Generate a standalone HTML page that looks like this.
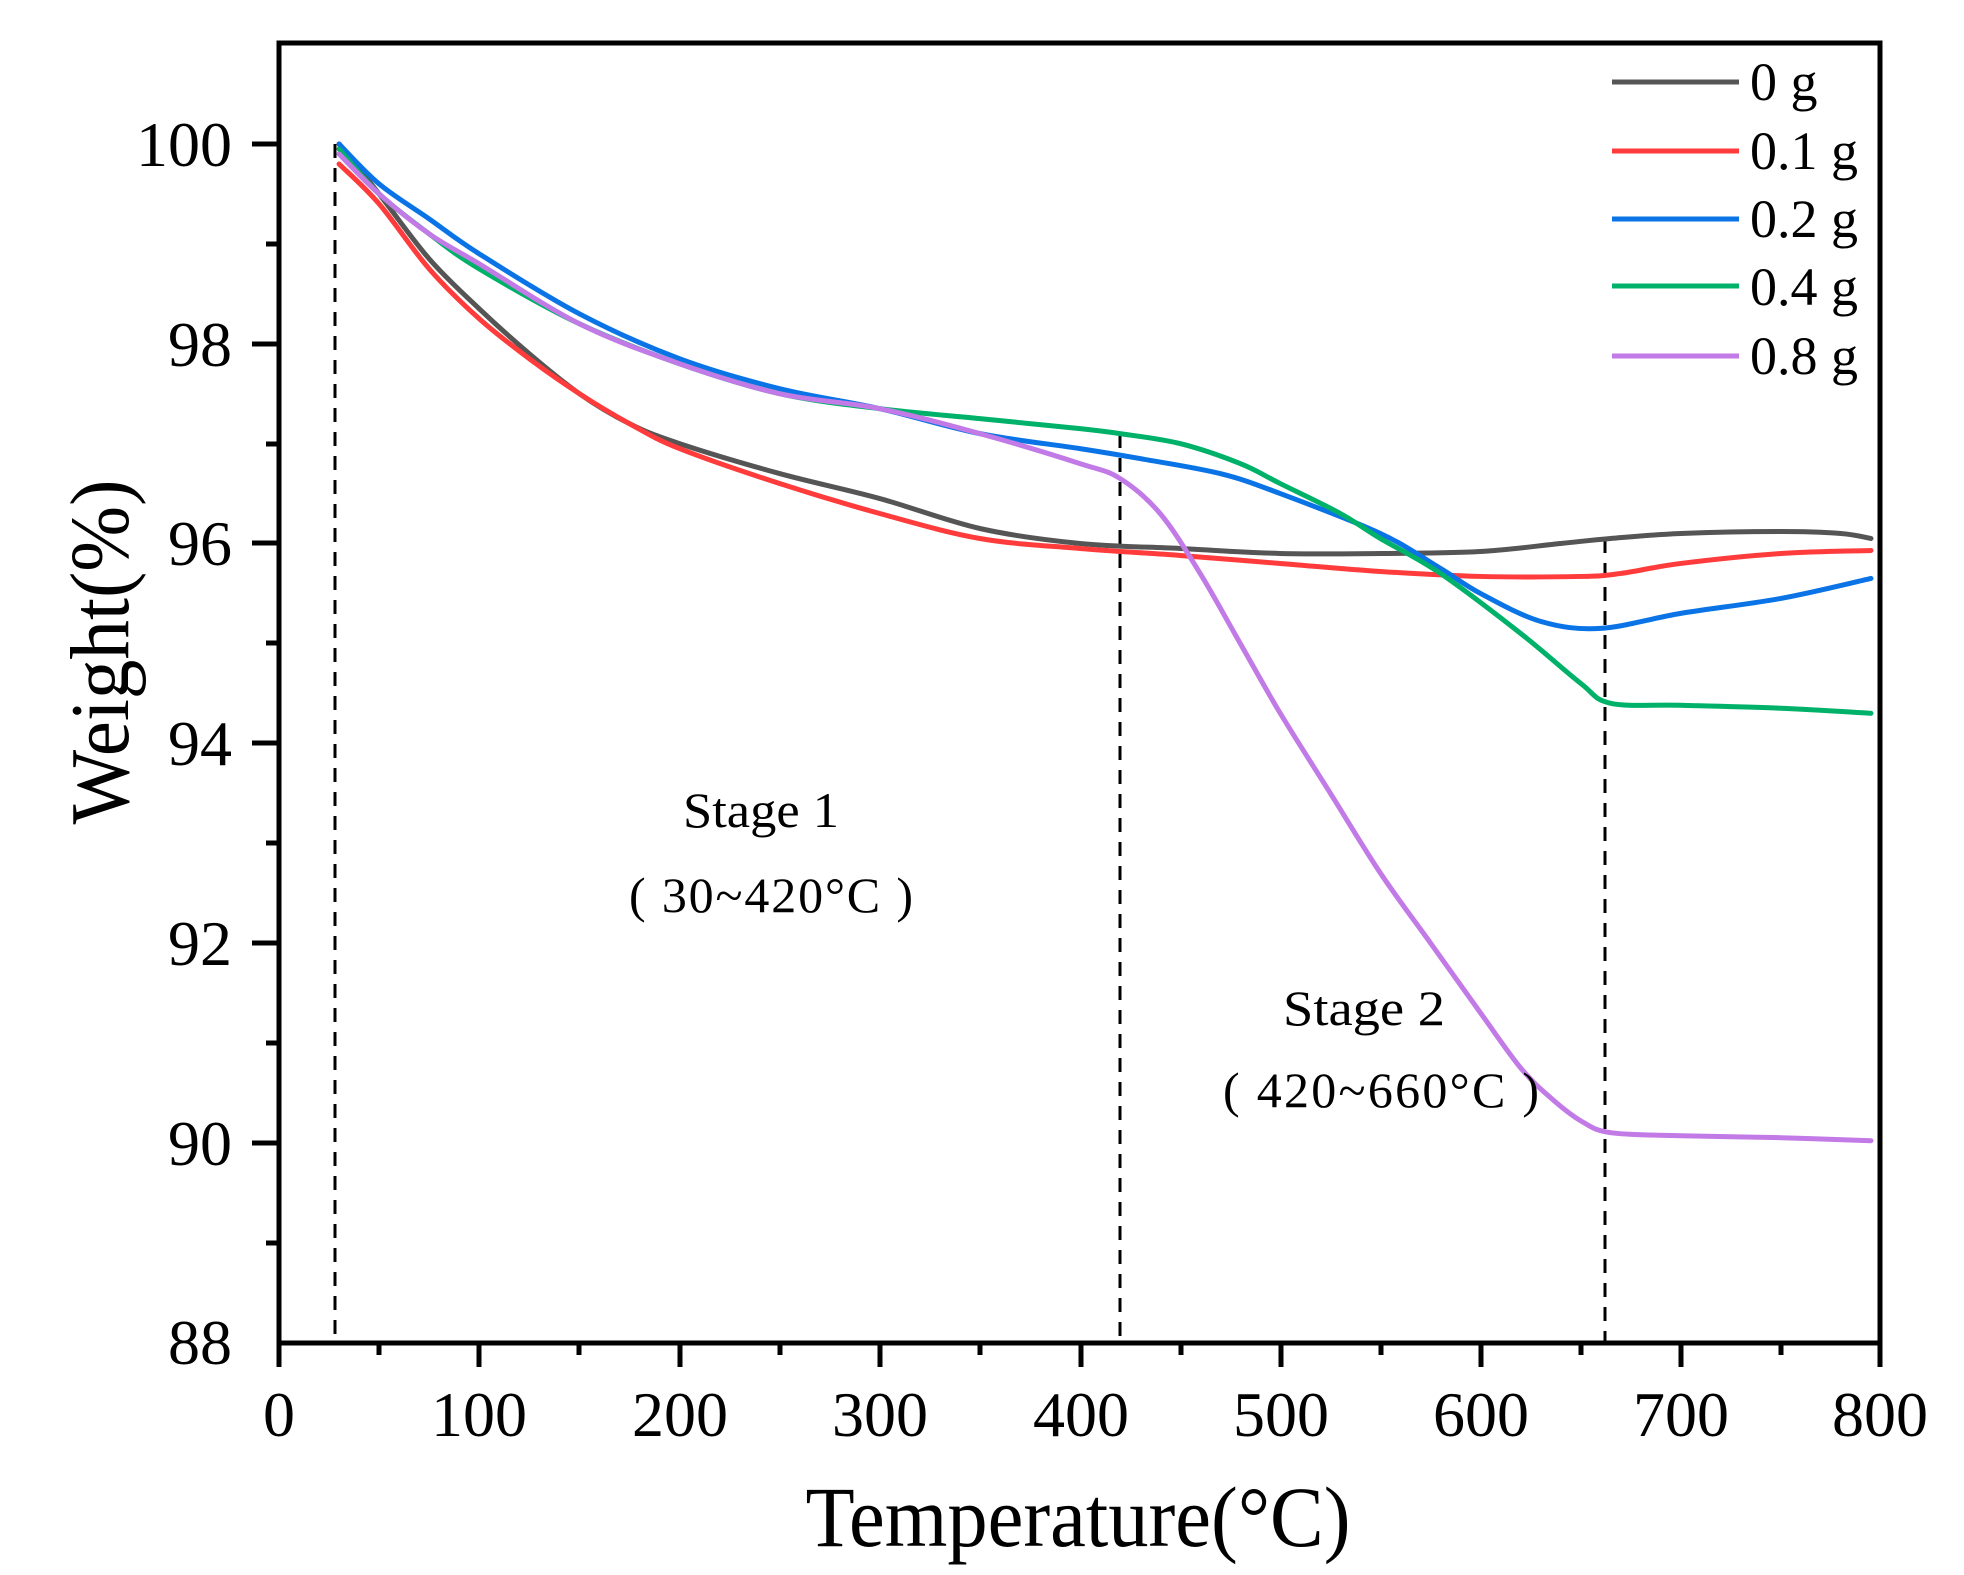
<!DOCTYPE html>
<html><head><meta charset="utf-8"><style>html,body{margin:0;padding:0;background:#fff}svg{display:block}text{font-family:"Liberation Serif",serif;fill:#000}</style></head>
<body>
<svg id="s" width="1964" height="1575" viewBox="0 0 1964 1575" xmlns="http://www.w3.org/2000/svg">
<rect width="1964" height="1575" fill="#fff"/>
<g stroke="#000" stroke-width="3" stroke-dasharray="14,10">
<line x1="335" y1="144" x2="335" y2="1343"/>
<line x1="1120" y1="434" x2="1120" y2="1343"/>
<line x1="1605" y1="539" x2="1605" y2="1343"/>
</g>
<g id="curves" fill="none" stroke-width="5" stroke-linejoin="round" stroke-linecap="round"></g>
<rect x="279" y="43" width="1601" height="1300" fill="none" stroke="#000" stroke-width="5"/>
<g stroke="#000" stroke-width="5">
<line x1="279" y1="1343" x2="279" y2="1367"/><line x1="479" y1="1343" x2="479" y2="1367"/><line x1="680" y1="1343" x2="680" y2="1367"/><line x1="880" y1="1343" x2="880" y2="1367"/><line x1="1081" y1="1343" x2="1081" y2="1367"/><line x1="1281" y1="1343" x2="1281" y2="1367"/><line x1="1481" y1="1343" x2="1481" y2="1367"/><line x1="1681" y1="1343" x2="1681" y2="1367"/><line x1="1880" y1="1343" x2="1880" y2="1367"/>
<line x1="379" y1="1343" x2="379" y2="1355"/><line x1="579" y1="1343" x2="579" y2="1355"/><line x1="780" y1="1343" x2="780" y2="1355"/><line x1="980" y1="1343" x2="980" y2="1355"/><line x1="1181" y1="1343" x2="1181" y2="1355"/><line x1="1381" y1="1343" x2="1381" y2="1355"/><line x1="1581" y1="1343" x2="1581" y2="1355"/><line x1="1781" y1="1343" x2="1781" y2="1355"/>
<line x1="252" y1="144" x2="279" y2="144"/><line x1="252" y1="344" x2="279" y2="344"/><line x1="252" y1="543" x2="279" y2="543"/><line x1="252" y1="743" x2="279" y2="743"/><line x1="252" y1="943" x2="279" y2="943"/><line x1="252" y1="1143" x2="279" y2="1143"/>
<line x1="266" y1="244" x2="279" y2="244"/><line x1="266" y1="444" x2="279" y2="444"/><line x1="266" y1="643" x2="279" y2="643"/><line x1="266" y1="843" x2="279" y2="843"/><line x1="266" y1="1043" x2="279" y2="1043"/><line x1="266" y1="1243" x2="279" y2="1243"/>
</g>
<g font-size="64" text-anchor="middle">
<text x="279" y="1436">0</text><text x="479" y="1436">100</text><text x="680" y="1436">200</text><text x="880" y="1436">300</text><text x="1081" y="1436">400</text><text x="1281" y="1436">500</text><text x="1481" y="1436">600</text><text x="1681" y="1436">700</text><text x="1880" y="1436">800</text>
</g>
<g font-size="64" text-anchor="end">
<text x="232" y="166">100</text><text x="232" y="366">98</text><text x="232" y="565">96</text><text x="232" y="765">94</text><text x="232" y="965">92</text><text x="232" y="1165">90</text><text x="232" y="1364">88</text>
</g>
<text x="1078" y="1546" font-size="86" text-anchor="middle" textLength="545" lengthAdjust="spacingAndGlyphs">Temperature(°C)</text>
<text transform="translate(128,652) rotate(-90)" font-size="84" text-anchor="middle" textLength="345" lengthAdjust="spacingAndGlyphs">Weight(%)</text>
<g stroke-width="5">
<line x1="1612" y1="82" x2="1739" y2="82" stroke="#555"/>
<line x1="1612" y1="151" x2="1739" y2="151" stroke="#ff3b3b"/>
<line x1="1612" y1="219" x2="1739" y2="219" stroke="#0a74e6"/>
<line x1="1612" y1="286" x2="1739" y2="286" stroke="#00b16a"/>
<line x1="1612" y1="356" x2="1739" y2="356" stroke="#c27ae6"/>
</g>
<g font-size="54">
<text x="1750" y="100">0 g</text><text x="1750" y="169">0.1 g</text><text x="1750" y="237">0.2 g</text><text x="1750" y="305">0.4 g</text><text x="1750" y="374">0.8 g</text>
</g>
<g font-size="50">
<text x="683" y="827" textLength="156" lengthAdjust="spacingAndGlyphs">Stage 1</text>
<text x="629" y="912" textLength="284" lengthAdjust="spacing">( 30~420°C )</text>
<text x="1283" y="1025" textLength="162" lengthAdjust="spacingAndGlyphs">Stage 2</text>
<text x="1223" y="1107" textLength="316" lengthAdjust="spacing">( 420~660°C )</text>
</g>
</svg>
<script>
var D=[
["#555","30,100 50,99.5 75,98.85 100,98.35 125,97.9 150,97.5 175,97.2 200,97.0 250,96.7 300,96.45 350,96.15 400,96.0 450,95.95 500,95.9 550,95.9 600,95.92 640,96.0 665,96.05 700,96.1 750,96.12 780,96.1 795,96.05"],
["#ff3b3b","30,99.8 50,99.4 75,98.75 100,98.25 125,97.85 150,97.5 175,97.2 200,96.95 250,96.6 300,96.3 350,96.05 400,95.95 450,95.88 500,95.8 550,95.72 600,95.67 650,95.67 670,95.7 700,95.8 750,95.9 795,95.93"],
["#0a74e6","30,100 50,99.6 75,99.25 100,98.9 150,98.3 200,97.85 250,97.55 300,97.35 350,97.1 400,96.95 430,96.85 470,96.7 500,96.5 550,96.1 580,95.75 600,95.5 630,95.22 660,95.15 700,95.3 750,95.45 795,95.65"],
["#00b16a","30,99.95 50,99.5 75,99.1 100,98.75 150,98.2 200,97.8 250,97.5 300,97.35 350,97.25 400,97.15 420,97.1 450,97.0 480,96.8 500,96.6 530,96.3 550,96.05 580,95.7 620,95.1 650,94.6 665,94.4 700,94.38 750,94.35 795,94.3"],
["#c27ae6","30,99.9 50,99.5 75,99.1 100,98.8 150,98.2 200,97.8 250,97.5 300,97.35 350,97.1 400,96.8 420,96.65 440,96.3 460,95.7 480,95.0 500,94.3 525,93.5 550,92.7 575,92.0 600,91.3 620,90.75 635,90.45 650,90.22 665,90.1 700,90.07 750,90.05 795,90.02"]];
var g=document.getElementById("curves"),ns="http://www.w3.org/2000/svg";
D.forEach(function(c){
 var p=c[1].split(" ").map(function(s){var a=s.split(",");return [279+2.0025*(+a[0]),144+99.87*(100-(+a[1]))];});
 var d="M"+p[0][0]+","+p[0][1];
 for(var i=0;i<p.length-1;i++){
  var p0=p[i>0?i-1:i],p1=p[i],p2=p[i+1],p3=p[i+2<p.length?i+2:i+1];
  var c1=[p1[0]+(p2[0]-p0[0])/6,p1[1]+(p2[1]-p0[1])/6],c2=[p2[0]-(p3[0]-p1[0])/6,p2[1]-(p3[1]-p1[1])/6];
  d+=" C"+c1+" "+c2+" "+p2;
 }
 var e=document.createElementNS(ns,"path");e.setAttribute("d",d);e.setAttribute("stroke",c[0]);g.appendChild(e);
});
</script>
</body></html>
